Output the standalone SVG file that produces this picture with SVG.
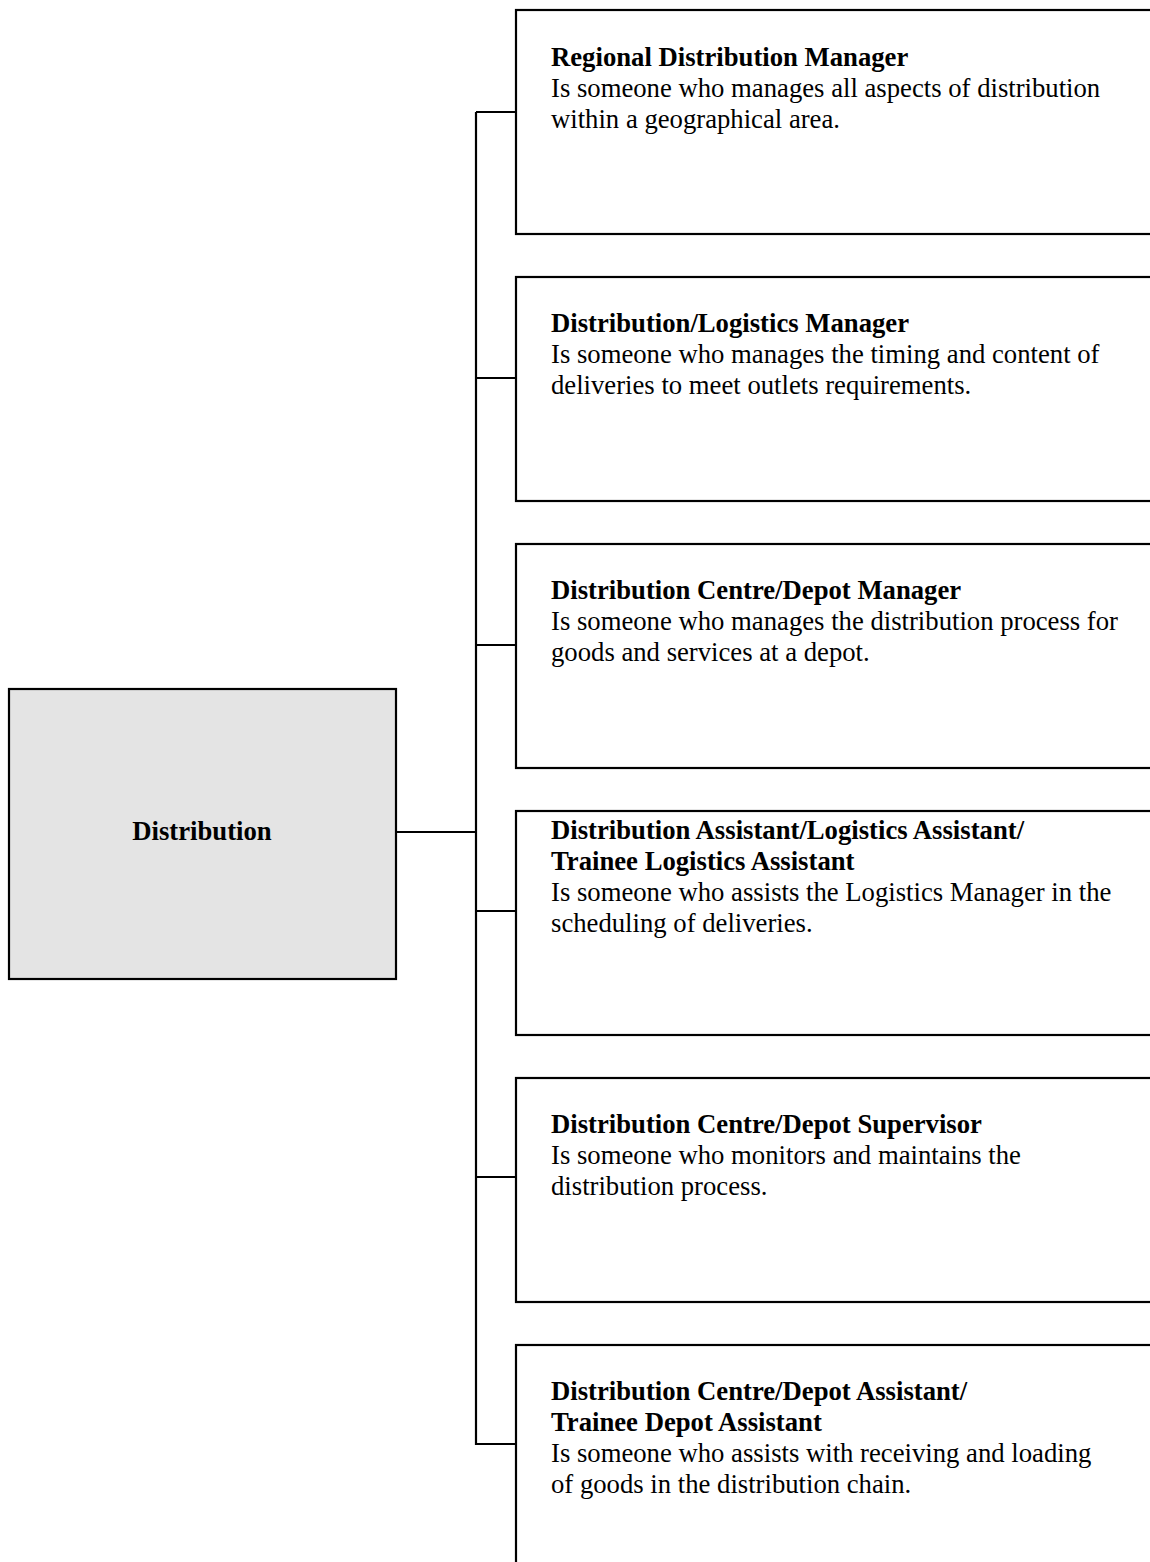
<svg xmlns="http://www.w3.org/2000/svg" width="1150" height="1562" viewBox="0 0 1150 1562">
<style>
.box{fill:#fff;stroke:#000;stroke-width:2.2}
.root{fill:#e4e4e4;stroke:#000;stroke-width:2.2}
.conn{fill:none;stroke:#000;stroke-width:2.2}
text{font-family:"Liberation Serif","Times New Roman",serif;font-size:26.7px;fill:#000}
.t{font-weight:bold}
</style>
<rect width="1150" height="1562" fill="#fff"/>
<g id="connectors">
<line class="conn" x1="476" y1="112" x2="476" y2="1445"/>
<line class="conn" x1="396" y1="832" x2="476" y2="832"/>
<line class="conn" x1="476" y1="112" x2="516" y2="112"/>
<line class="conn" x1="476" y1="378" x2="516" y2="378"/>
<line class="conn" x1="476" y1="645" x2="516" y2="645"/>
<line class="conn" x1="476" y1="911" x2="516" y2="911"/>
<line class="conn" x1="476" y1="1177" x2="516" y2="1177"/>
<line class="conn" x1="476" y1="1444" x2="516" y2="1444"/>
</g>
<g id="root">
<rect class="root" x="9" y="689" width="387" height="290"/>
<text class="t" x="202" y="840" text-anchor="middle">Distribution</text>
</g>
<g id="n1">
<rect class="box" x="516" y="10" width="700" height="224"/>
<text x="551"><tspan class="t" x="551" y="66">Regional Distribution Manager</tspan><tspan x="551" y="97">Is someone who manages all aspects of distribution</tspan><tspan x="551" y="128">within a geographical area.</tspan></text>
</g>
<g id="n2">
<rect class="box" x="516" y="277" width="700" height="224"/>
<text x="551"><tspan class="t" x="551" y="332">Distribution/Logistics Manager</tspan><tspan x="551" y="363">Is someone who manages the timing and content of</tspan><tspan x="551" y="394">deliveries to meet outlets requirements.</tspan></text>
</g>
<g id="n3">
<rect class="box" x="516" y="544" width="700" height="224"/>
<text x="551"><tspan class="t" x="551" y="599">Distribution Centre/Depot Manager</tspan><tspan x="551" y="630">Is someone who manages the distribution process for</tspan><tspan x="551" y="661">goods and services at a depot.</tspan></text>
</g>
<g id="n4">
<rect class="box" x="516" y="811" width="700" height="224"/>
<text x="551"><tspan class="t" x="551" y="839">Distribution Assistant/Logistics Assistant/</tspan><tspan class="t" x="551" y="870">Trainee Logistics Assistant</tspan><tspan x="551" y="901">Is someone who assists the Logistics Manager in the</tspan><tspan x="551" y="932">scheduling of deliveries.</tspan></text>
</g>
<g id="n5">
<rect class="box" x="516" y="1078" width="700" height="224"/>
<text x="551"><tspan class="t" x="551" y="1133">Distribution Centre/Depot Supervisor</tspan><tspan x="551" y="1164">Is someone who monitors and maintains the</tspan><tspan x="551" y="1195">distribution process.</tspan></text>
</g>
<g id="n6">
<rect class="box" x="516" y="1345" width="700" height="300"/>
<text x="551"><tspan class="t" x="551" y="1400">Distribution Centre/Depot Assistant/</tspan><tspan class="t" x="551" y="1431">Trainee Depot Assistant</tspan><tspan x="551" y="1462">Is someone who assists with receiving and loading</tspan><tspan x="551" y="1493">of goods in the distribution chain.</tspan></text>
</g>
</svg>
